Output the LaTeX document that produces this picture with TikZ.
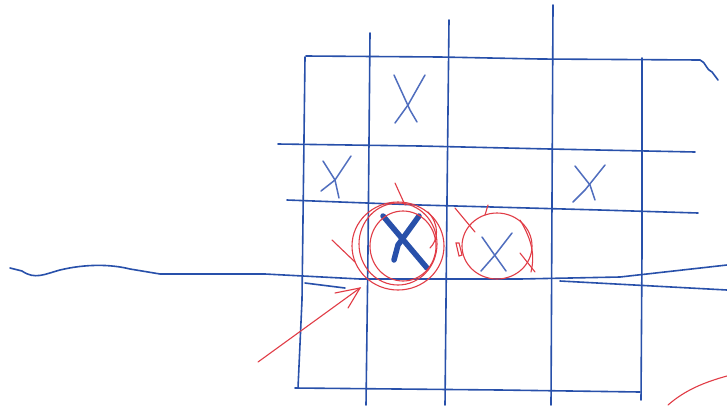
\documentclass[tikz,border=0pt]{standalone}
\usetikzlibrary{arrows.meta}
\definecolor{pen}{RGB}{40,80,170}
\definecolor{lightpen}{RGB}{80,110,190}
\definecolor{redpen}{RGB}{225,60,70}
\tikzset{
  gridline/.style={draw=pen, line width=1.6pt, line cap=round},
  xmark/.style={draw=lightpen, line width=1.5pt, line cap=round},
  boldx/.style={draw=pen, line width=5.5pt, line cap=round},
  redink/.style={draw=redpen, line width=1.1pt, line cap=round},
}
\begin{document}
\begin{tikzpicture}[x=1pt,y=-1pt]
\useasboundingbox (0,0) rectangle (727,405);
\fill[white] (0,0) rectangle (727,405);
% vertical lines
\draw[gridline] (305,57) -- (302,300) -- (298,388);
\draw[gridline] (370,33) -- (368,250) -- (366,405);
\draw[gridline] (449,20) -- (447,200) -- (445,405);
\draw[gridline] (553,5) -- (552,200) -- (551,405);
\draw[gridline] (642,58) -- (642,250) -- (641,400);
% horizontal lines
\draw[gridline] (306,56) -- (440,57) -- (540,59) -- (700,60) .. controls (706,62) and (706,70) .. (712,72) -- (718,80);
\draw[gridline] (278,144) -- (420,146) -- (550,149) -- (695,152);
\draw[gridline] (287,200) -- (420,205) -- (600,210) -- (698,213);
\draw[gridline] (10,268) -- (22,271) .. controls (35,280) and (45,274) .. (60,270)
  .. controls (85,264) and (110,264) .. (130,269) -- (160,274) -- (265,274) -- (360,279) -- (520,279) -- (620,277) -- (727,265);
\draw[gridline] (560,281) -- (727,290);
\draw[gridline] (305,283) -- (345,288);
\draw[gridline] (295,388) -- (500,390) -- (640,392);
% X marks
\draw[xmark] (394,75) -- (410,110) -- (417,122);
\draw[xmark] (425,75) -- (408,105) -- (395,123);
\draw[xmark] (323,161) -- (335,180) -- (339,198);
\draw[xmark] (351,156) -- (335,180) -- (321,191);
\draw[xmark] (575,166) -- (590,185) -- (595,200);
\draw[xmark] (605,165) -- (585,190) -- (573,202);
\draw[boldx] (383,216) -- (427,268);
\draw[boldx] (419,216) -- (398,245) -- (394,260);
\draw[xmark] (482,237) -- (496,257) -- (506,271);
\draw[xmark] (512,233) -- (495,255) -- (481,271);
% red circles
\draw[redink] (398,246) ellipse (46 and 44);
\draw[redink] (398,244) ellipse (39 and 41);
\draw[redink] (403,246) ellipse (33 and 35);
\draw[redink] (428,212) .. controls (440,225) and (438,240) .. (430,248);
\draw[redink] (395,183) -- (405,205);
\draw[redink] (332,240) -- (355,262);
\draw[redink] (497,246) ellipse (35 and 33);
\draw[redink] (455,208) -- (475,232);
\draw[redink] (520,220) .. controls (532,240) and (535,255) .. (531,272);
\draw[redink] (520,253) -- (535,272);
\draw[redink] (488,205) -- (485,215);
\draw[redink] (456,243) -- (459,256) -- (462,255) -- (459,243) -- cycle;
% red arrow
\coordinate (arrowstart) at (258,362);
\coordinate (arrowend) at (360,288);
\draw[redink] (arrowstart) -- (arrowend);
\draw[redink] (335,293) -- (arrowend) -- (348,308);
% red arc bottom right
\draw[redink] (668,405) .. controls (685,390) and (705,382) .. (727,376);
\end{tikzpicture}
\end{document}
